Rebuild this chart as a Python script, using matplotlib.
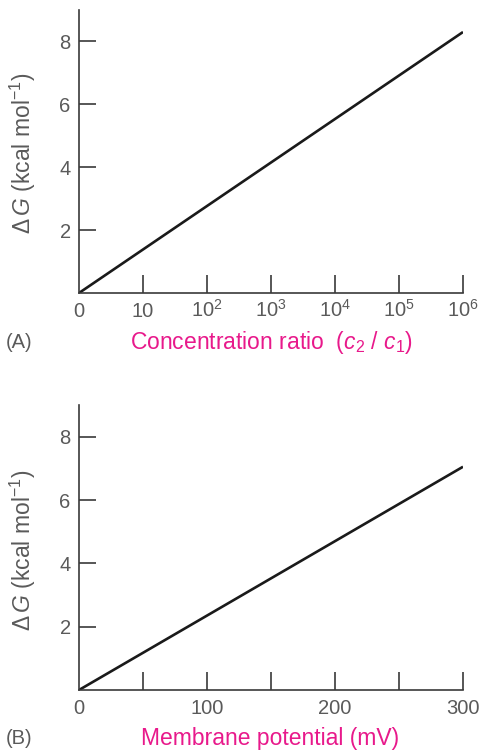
import matplotlib
matplotlib.use("Agg")
import matplotlib.pyplot as plt

plt.rcParams['font.family'] = ['Liberation Sans', 'DejaVu Sans']
plt.rcParams['mathtext.fontset'] = 'custom'
plt.rcParams['mathtext.rm'] = 'Liberation Sans'
plt.rcParams['mathtext.it'] = 'Liberation Sans:italic'

# Panel A data: log10 of concentration ratio vs free energy
conc_log = [0, 6]
dG_conc = [0, 8.3]
conc_ticks = [1, 2, 3, 4, 5, 6]
conc_labels_pos = [0, 1, 2, 3, 4, 5, 6]
conc_labels = ['0', '10', '$10^2$', '$10^3$', '$10^4$', '$10^5$', '$10^6$']

# Panel B data: membrane potential vs free energy
mv = [0, 300]
dG_mv = [0, 7.05]
mv_ticks = [50, 100, 150, 200, 250, 300]
mv_labels_pos = [0, 100, 200, 300]
mv_labels = ['0', '100', '200', '300']

y_ticks = [2, 4, 6, 8]
y_labels = ['2', '4', '6', '8']

W, H = 482, 756
fig = plt.figure(figsize=(W / 100, H / 100), dpi=100)

text_gray = '#5a5a5a'
axis_col = '#3a3a3a'
magenta = '#e8198b'
TICK_FS = 14.5
LAB_FS = 16.5


def px_axes(x0, y0, x1, y1):
    return fig.add_axes([x0 / W, 1 - y1 / H, (x1 - x0) / W, (y1 - y0) / H])


def style(ax, xlim, xticks, lab_pos, labs):
    ax.set_xlim(*xlim)
    ax.set_ylim(0, 9)
    for s in ['top', 'right']:
        ax.spines[s].set_visible(False)
    for s in ['left', 'bottom']:
        ax.spines[s].set_color(axis_col)
        ax.spines[s].set_linewidth(1.2)
    ax.xaxis.remove_overlapping_locs = False
    ax.set_yticks(y_ticks)
    ax.set_yticklabels(y_labels)
    ax.set_xticks(xticks)
    ax.set_xticklabels([])
    ax.set_xticks(lab_pos, minor=True)
    ax.set_xticklabels(labs, minor=True)
    ax.tick_params(axis='x', which='major', direction='in', length=13, width=1.2,
                   color=axis_col, labelbottom=False)
    ax.tick_params(axis='x', which='minor', length=0, pad=17, labelsize=TICK_FS,
                   labelcolor=text_gray)
    ax.tick_params(axis='y', direction='in', length=12.5, width=1.2, color=axis_col,
                   pad=6, labelsize=TICK_FS, labelcolor=text_gray)
    for lbl in ax.get_xticklabels(minor=True):
        lbl.set_verticalalignment('baseline')


axA = px_axes(79, 10, 463, 293)
axA.plot(conc_log, dG_conc, color='#1a1a1a', lw=1.9, solid_capstyle='butt')
style(axA, (0, 6), conc_ticks, conc_labels_pos, conc_labels)

axB = px_axes(79, 405, 463, 690)
axB.plot(mv, dG_mv, color='#1a1a1a', lw=1.9, solid_capstyle='butt')
style(axB, (0, 300), mv_ticks, mv_labels_pos, mv_labels)


def ftext(x, y, s, **kw):
    fig.text(x / W, 1 - y / H, s, **kw)


ylab = r'$\Delta\,G$ (kcal mol$^{-1}$)'
ftext(23, 153, ylab, rotation=90, ha='center', va='center', fontsize=LAB_FS, color=text_gray)
ftext(23, 550, ylab, rotation=90, ha='center', va='center', fontsize=LAB_FS, color=text_gray)

ftext(271, 343, r'Concentration ratio  ($c_2$ / $c_1$)', ha='center', va='center',
      fontsize=LAB_FS, color=magenta)
ftext(270, 738, 'Membrane potential (mV)', ha='center', va='center',
      fontsize=LAB_FS, color=magenta)
ftext(6, 343, '(A)', ha='left', va='center', fontsize=TICK_FS, color=text_gray)
ftext(6, 738, '(B)', ha='left', va='center', fontsize=TICK_FS, color=text_gray)

fig.savefig('out.png', dpi=100)
